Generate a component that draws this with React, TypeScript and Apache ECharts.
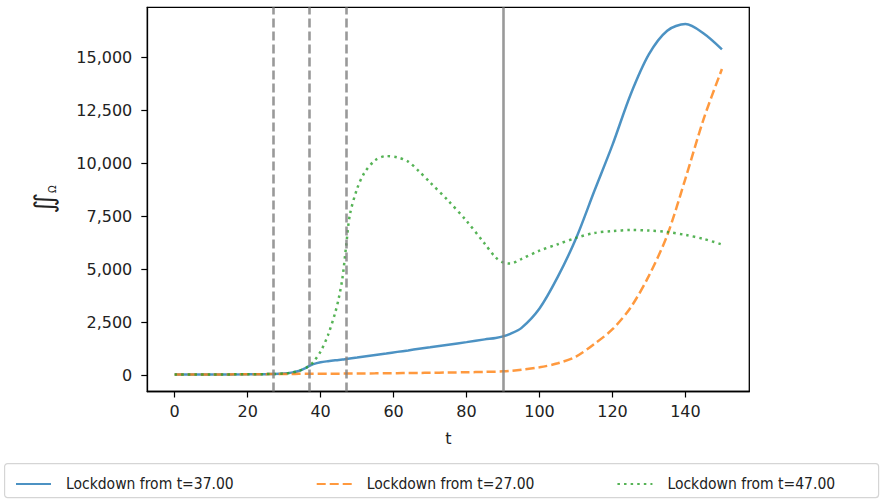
import React, { useEffect, useRef } from "react";
import * as echarts from "echarts";

// Time grid (days) shared by all three scenarios
const tDays = [
  0, 10, 20, 25, 27, 30, 32, 34, 36, 37, 38, 40, 42, 44, 45, 46, 47, 48, 50, 52,
  55, 58, 61, 64, 67, 70, 75, 80, 85, 88, 90, 92, 95, 100, 105, 110, 115, 120,
  125, 130, 135, 140, 145, 150,
];

// Lockdown from t=37.00
const lockdown37 = [
  30, 35, 42, 50, 55, 80, 120, 200, 350, 440, 520, 610, 660, 700, 715, 735, 760,
  785, 830, 880, 950, 1020, 1100, 1170, 1250, 1320, 1440, 1560, 1690, 1760,
  1830, 1950, 2220, 3150, 4640, 6450, 8680, 10870, 13260, 15150, 16260, 16570,
  16130, 15380,
];

// Lockdown from t=27.00
const lockdown27 = [
  30, 35, 42, 50, 55, 58, 60, 62, 64, 65, 66, 68, 70, 72, 73, 74, 75, 76, 79, 82,
  86, 91, 96, 101, 107, 113, 124, 138, 155, 168, 180, 205, 260, 370, 560, 880,
  1470, 2170, 3200, 4700, 6600, 9280, 12100, 14450,
];

// Lockdown from t=47.00
const lockdown47 = [
  30, 35, 42, 50, 55, 80, 120, 200, 350, 460, 620, 1120, 1880, 2950, 3650, 4600,
  6100, 7550, 8800, 9550, 10150, 10340, 10280, 10080, 9620, 9100, 8230, 7280,
  6200, 5550, 5320, 5270, 5480, 5880, 6180, 6480, 6710, 6800, 6850, 6830, 6760,
  6620, 6430, 6170,
];

const seriesNames = [
  "Lockdown from t=37.00",
  "Lockdown from t=27.00",
  "Lockdown from t=47.00",
];

// Lockdown start days (dashed) and the end of lockdown (solid)
const lockdownStarts = [27, 37, 47];
const lockdownEnd = 90;

const xTicks = [0, 20, 40, 60, 80, 100, 120, 140];
const yTicks = [0, 2500, 5000, 7500, 10000, 12500, 15000];

const FONT = "DejaVu Sans";
const LEGEND_FONT = "'DejaVu Sans Condensed', 'DejaVu Sans'";

const pairs = (vals: number[]) => tDays.map((t, i) => [t, vals[i]]);

export default function App() {
  const ref = useRef<HTMLDivElement>(null);

  useEffect(() => {
    if (!ref.current) return;
    const chart = echarts.init(ref.current, undefined, { renderer: "svg" });

    const axisCommon = {
      axisLine: { show: true, onZero: false, lineStyle: { color: "#000", width: 1.3 } },
      axisTick: { show: true, inside: false, length: 6, lineStyle: { color: "#000", width: 1.2 } },
      splitLine: { show: false },
    };

    const vLine = (x: number, dashed: boolean) => ({
      xAxis: x,
      lineStyle: {
        color: "#808080",
        opacity: 0.8,
        width: 2.6,
        type: dashed ? [9, 4] : "solid",
      },
    });

    const lineSeries = (
      name: string,
      vals: number[],
      color: string,
      type: any
    ) => ({
      name,
      type: "line",
      data: pairs(vals),
      showSymbol: false,
      symbol: "none",
      smooth: 0.3,
      lineStyle: { color, width: 2.5, opacity: 0.8, type },
      itemStyle: { color, opacity: 0.8 },
      z: 3,
    });

    const option: any = {
      animation: false,
      backgroundColor: "#fff",
      grid: {
        left: 147.3,
        top: 7.3,
        right: 882 - 749.3,
        bottom: 499 - 391.5,
        outerBoundsMode: "none",
        show: true,
        borderColor: "#000",
        borderWidth: 1.3,
      },
      xAxis: {
        type: "value",
        min: -7.5,
        max: 157.5,
        name: "t",
        nameLocation: "middle",
        nameGap: 39,
        nameTextStyle: { fontFamily: FONT, fontSize: 16, color: "#222" },
        ...axisCommon,
        axisTick: { ...axisCommon.axisTick, customValues: xTicks },
        axisLabel: {
          customValues: xTicks,
          fontFamily: FONT,
          fontSize: 16,
          color: "#222",
          margin: 12,
        },
      },
      yAxis: {
        type: "value",
        min: -770,
        max: 17363,
        name: "{a|∬}{b|Ω}",
        nameLocation: "middle",
        nameRotate: 90,
        nameGap: 90,
        nameTextStyle: {
          rich: {
            a: { fontFamily: FONT, fontSize: 26, color: "#222" },
            b: { fontFamily: FONT, fontSize: 10, color: "#222", verticalAlign: "bottom" },
          },
        },
        ...axisCommon,
        axisTick: { ...axisCommon.axisTick, customValues: yTicks },
        axisLabel: {
          customValues: yTicks,
          fontFamily: FONT,
          fontSize: 16,
          color: "#222",
          margin: 15,
          formatter: (v: number) => v.toLocaleString("en-US"),
        },
      },
      legend: {
        left: 10,
        top: 471,
        itemWidth: 35,
        itemHeight: 16,
        itemGap: 82,
        data: seriesNames,
        itemStyle: { opacity: 0, borderWidth: 0 },
        textStyle: { fontFamily: LEGEND_FONT, fontSize: 15.5, color: "#222", padding: [0, 0, 0, 10] },
      },
      graphic: [
        {
          type: "rect",
          left: 4,
          top: 463,
          shape: { width: 874, height: 34, r: 3 },
          style: { fill: "#fff", stroke: "#d5d5d5", lineWidth: 1.2 },
          z: -1,
        },
      ],
      series: [
        {
          ...lineSeries(seriesNames[0], lockdown37, "#1f77b4", "solid"),
          markLine: {
            silent: true,
            symbol: "none",
            label: { show: false },
            data: [
              ...lockdownStarts.map((x) => vLine(x, true)),
              vLine(lockdownEnd, false),
            ],
          },
        },
        lineSeries(seriesNames[1], lockdown27, "#ff7f0e", [9, 4]),
        lineSeries(seriesNames[2], lockdown47, "#2ca02c", [2.5, 4.1]),
      ],
    };

    chart.setOption(option);
    return () => chart.dispose();
  }, []);

  return (
    <div
      ref={ref}
      style={{ position: "fixed", left: 0, top: 0, width: 882, height: 499 }}
    />
  );
}
